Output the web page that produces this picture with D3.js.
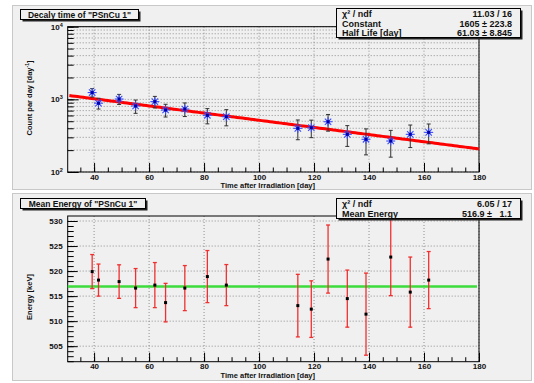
<!DOCTYPE html>
<html>
<head>
<meta charset="utf-8">
<script src="https://cdn.jsdelivr.net/npm/d3@7"></script>
<style>
  body { margin: 0; background: #fff; }
  svg text { font-family: "Liberation Sans", Arial, sans-serif; font-weight: bold; fill: #111; }
  .grid line { stroke: #777; stroke-dasharray: 1,2; stroke-width: 0.8; }
  .axis path { display: none; }
  .axis line { stroke: #000; }
</style>
</head>
<body>
<svg id="chart" width="534" height="383"></svg>
<script>
(function(){
    "use strict";

    // data
    var days      = [39.3, 41.6, 49.1, 55.1, 62.1, 66.0, 73.0, 81.2, 88.1, 114.1, 119.0, 125.1, 132.1, 138.9, 147.9, 155.0, 161.7];
    var counts    = [1240, 885, 1010, 810, 930, 713, 736, 603, 577, 399, 407, 492, 330, 282, 267, 330, 351];
    var countErr  = [165, 150, 160, 168, 168, 142, 156, 143, 145, 121, 110, 127, 105, 110, 107, 113, 107];
    var energy    = [519.9, 518.2, 517.9, 516.6, 517.2, 513.7, 516.6, 518.9, 517.2, 513.1, 512.4, 522.4, 514.5, 511.4, 522.8, 515.8, 518.2];
    var energyErr = [3.4, 3.2, 3.35, 3.9, 4.5, 3.85, 4.5, 5.2, 4.1, 6.25, 5.65, 6.8, 5.7, 8.2, 7.7, 7.0, 5.7];

    var xMajor = [40, 60, 80, 100, 120, 140, 160, 180];
    var eMajor = [505, 510, 515, 520, 525, 530];

    // fit results (from the stat boxes)
    var fitConstant = 1605, fitHalfLife = 61.03;
    var meanEnergy = 516.9;

    var topStats = [["\u03c7\u00b2 / ndf", "11.03 / 16"], ["Constant", "1605 \u00b1 223.8"], ["Half Life [day]", "61.03 \u00b1 8.845"]];
    var botStats = [["\u03c7\u00b2 / ndf", "6.05 / 17"], ["Mean Energy", "516.9 \u00b1   1.1"]];

    var svg = d3.select("#chart");

    var x = d3.scaleLinear().domain([30.4, 180]).range([67.7, 479]);
    var yTop = d3.scaleLog().domain([100, 10000]).range([172, 26.7]);
    var yBot = d3.scaleLinear().domain([501.9, 531]).range([361.7, 216]);

    var logTicks = [];
    [100, 1000].forEach(function(d) {
        for (var k = 1; k < 10; k++) logTicks.push(d * k);
    });
    logTicks.push(10000);

    function pad(y0, y1) {
        svg.append("rect").attr("x", 12.5).attr("y", y0 + 0.5)
            .attr("width", 519).attr("height", y1 - y0)
            .attr("fill", "#f0f0f0").attr("stroke", "#c8c8c8");
    }
    pad(5, 189);
    pad(193, 380);

    function drawPanel(y, yTicks, yMinor, yMajorLen, top, bottom, labelPad) {
        var g = svg.append("g");
        // grid
        var grid = g.append("g").attr("class", "grid");
        grid.selectAll("line.v").data(xMajor).enter().append("line")
            .attr("x1", function(d) { return x(d); }).attr("x2", function(d) { return x(d); })
            .attr("y1", top).attr("y2", bottom);
        grid.selectAll("line.h").data(yTicks).enter().append("line")
            .attr("x1", x.range()[0]).attr("x2", x.range()[1])
            .attr("y1", function(d) { return y(d); }).attr("y2", function(d) { return y(d); });

        // x axis
        g.append("g").attr("class", "axis")
            .attr("transform", "translate(0," + bottom + ")")
            .call(d3.axisBottom(x).tickValues(d3.range(35, 181, 5)).tickSize(-4.5).tickFormat(""));
        g.append("g").attr("class", "axis")
            .attr("transform", "translate(0," + bottom + ")")
            .call(d3.axisBottom(x).tickValues(xMajor).tickSize(-9).tickPadding(labelPad).tickFormat(d3.format("d")))
            .selectAll("text").style("font-size", "8px");

        // y axis
        g.append("g").attr("class", "axis")
            .attr("transform", "translate(" + x.range()[0] + ",0)")
            .call(d3.axisLeft(y).tickValues(yMinor).tickSize(-6).tickFormat(""));
        var ya = g.append("g").attr("class", "axis")
            .attr("transform", "translate(" + x.range()[0] + ",0)")
            .call(d3.axisLeft(y).tickValues(yMajorLen.values).tickSize(-yMajorLen.len).tickPadding(5).tickFormat(yMajorLen.format));
        ya.selectAll("text").style("font-size", "8px");

        // frame
        g.append("rect").attr("x", x.range()[0]).attr("y", top)
            .attr("width", x.range()[1] - x.range()[0]).attr("height", bottom - top)
            .attr("fill", "none").attr("stroke", "#000");
        return ya;
    }

    // ---------- top panel ----------
    var ya = drawPanel(yTop, logTicks, logTicks, { values: [100, 1000, 10000], len: 11, format: function() { return ""; } }, 26.7, 172, 2);
    ya.selectAll(".tick text").each(function(d) {
        var t = d3.select(this);
        t.append("tspan").text("10");
        t.append("tspan").attr("dy", -3).style("font-size", "5.5px").text(Math.round(Math.log10(d)));
    });

    // fit line
    var fitLine = d3.line()
        .x(function(d) { return x(d); })
        .y(function(d) { return yTop(fitConstant * Math.pow(2, -d / fitHalfLife)); });
    svg.append("path").datum(d3.range(31, 180.01, 1))
        .attr("d", fitLine).attr("fill", "none")
        .attr("stroke", "#ff0000").attr("stroke-width", 3);

    var pts = days.map(function(d, i) { return { t: d, v: counts[i], e: countErr[i], m: energy[i], me: energyErr[i] }; });

    var gTop = svg.append("g");
    pts.forEach(function(p) {
        var px = x(p.t), py = yTop(p.v);
        var y1 = yTop(p.v + p.e), y2 = yTop(p.v - p.e);
        gTop.append("line").attr("x1", px).attr("x2", px).attr("y1", y1).attr("y2", y2)
            .attr("stroke", "#333").attr("stroke-width", 1);
        [y1, y2].forEach(function(yy) {
            gTop.append("line").attr("x1", px - 2).attr("x2", px + 2).attr("y1", yy).attr("y2", yy)
                .attr("stroke", "#333").attr("stroke-width", 1);
        });
        var s = 4.5, d = 3.2;
        var star = gTop.append("g").attr("stroke", "#3a4cff").attr("stroke-width", 1.1);
        star.append("line").attr("x1", px - s).attr("x2", px + s).attr("y1", py).attr("y2", py);
        star.append("line").attr("x1", px).attr("x2", px).attr("y1", py - s).attr("y2", py + s);
        star.append("line").attr("x1", px - d).attr("x2", px + d).attr("y1", py - d).attr("y2", py + d);
        star.append("line").attr("x1", px - d).attr("x2", px + d).attr("y1", py + d).attr("y2", py - d);
        gTop.append("rect").attr("x", px - 1.5).attr("y", py - 1.5).attr("width", 3).attr("height", 3)
            .attr("fill", "#0000aa");
    });

    // ---------- bottom panel ----------
    drawPanel(yBot, eMajor, d3.range(502, 531, 1), { values: eMajor, len: 10, format: d3.format("d") }, 216, 361.7, 1.5);

    svg.append("line").attr("x1", x.range()[0]).attr("x2", x(180) - 2)
        .attr("y1", yBot(meanEnergy)).attr("y2", yBot(meanEnergy))
        .attr("stroke", "#3ddc3d").attr("stroke-width", 2.5);

    var gBot = svg.append("g");
    pts.forEach(function(p) {
        var px = x(p.t), py = yBot(p.m);
        var y1 = yBot(p.m + p.me), y2 = yBot(p.m - p.me);
        gBot.append("line").attr("x1", px).attr("x2", px).attr("y1", y1).attr("y2", y2)
            .attr("stroke", "#f03030").attr("stroke-width", 1.3);
        [y1, y2].forEach(function(yy) {
            gBot.append("line").attr("x1", px - 2).attr("x2", px + 2).attr("y1", yy).attr("y2", yy)
                .attr("stroke", "#f03030").attr("stroke-width", 1.3);
        });
        gBot.append("rect").attr("x", px - 1.5).attr("y", py - 1.5).attr("width", 3).attr("height", 3)
            .attr("fill", "#000");
    });

    // ---------- axis titles ----------
    function xTitle(yy) {
        svg.append("text").attr("x", 315).attr("y", yy).attr("text-anchor", "end")
            .style("font-size", "7.5px").text("Time after Irradiation [day]");
    }
    xTitle(187.5);
    xTitle(377.8);

    var yt = svg.append("text").attr("transform", "translate(32,98) rotate(-90)")
        .attr("text-anchor", "middle").style("font-size", "7.5px");
    yt.append("tspan").text("Count par day [day");
    yt.append("tspan").attr("dy", -3).style("font-size", "5px").text("-1");
    yt.append("tspan").attr("dy", 3).text("]");

    svg.append("text").attr("transform", "translate(32,297) rotate(-90)")
        .attr("text-anchor", "middle").style("font-size", "7.5px").text("Energy [keV]");

    // ---------- title boxes ----------
    function box(x0, y0, w, h) {
        svg.append("rect").attr("x", x0 + 2).attr("y", y0 + 2).attr("width", w).attr("height", h).attr("fill", "#222");
        svg.append("rect").attr("x", x0).attr("y", y0).attr("width", w).attr("height", h)
            .attr("fill", "#f0f0f0").attr("stroke", "#000").attr("stroke-width", 1);
    }
    box(20.5, 9.5, 118, 10);
    svg.append("text").attr("x", 79.5).attr("y", 18).attr("text-anchor", "middle")
        .style("font-size", "8.5px").text("Decaly time of \"PSnCu 1\"");
    box(20.5, 198.5, 125, 10);
    svg.append("text").attr("x", 83).attr("y", 207).attr("text-anchor", "middle")
        .style("font-size", "8.5px").text("Mean Energy of \"PSnCu 1\"");

    // ---------- stat boxes ----------
    function stats(rows, y0, h, baselines) {
        box(336.5, y0, 184, h);
        rows.forEach(function(r, i) {
            svg.append("text").attr("x", 342).attr("y", baselines[i])
                .style("font-size", "9px").text(r[0]);
            svg.append("text").attr("x", 512).attr("y", baselines[i]).attr("text-anchor", "end")
                .attr("xml:space", "preserve").style("white-space", "pre")
                .style("font-size", "9px").text(r[1]);
        });
    }
    stats(topStats, 8.5, 29, [17, 26.5, 35.5]);
    stats(botStats, 198.5, 20, [207, 217]);
})();
</script>
</body>
</html>
